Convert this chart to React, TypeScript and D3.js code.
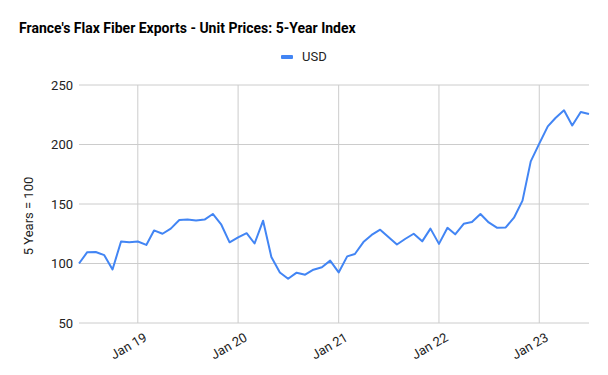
import { useEffect, useRef } from "react";
import * as d3 from "d3";

// monthly index, Jun 2018 .. Jul 2023
const startMonth = new Date(2018, 5, 1);
const values = [
  100, 109.5, 109.7, 107, 95, 118.5, 117.8,
  118.5, 115.6, 127.8, 125, 129.3, 136.6, 136.9, 136.1, 136.9, 141.6, 132.6, 117.8,
  121.9, 125.5, 116.8, 136, 105.5, 92.5, 87.2, 92.3, 90.6, 94.8, 96.8, 102.4,
  92.5, 106, 108, 118, 124, 128.4, 122.3, 116, 120.8, 125, 118.6, 129.3,
  116.5, 130, 124.5, 133.4, 134.8, 141.6, 134.5, 130, 130.3, 138.5, 152.8, 185.8,
  200.7, 215.2, 222.3, 228.7, 216, 227.3, 225.6,
];
const yTicks = [50, 100, 150, 200, 250];
const xTickYears = [2019, 2020, 2021, 2022, 2023];
const xTickLabels = ["Jan 19", "Jan 20", "Jan 21", "Jan 22", "Jan 23"];

export default function App() {
  const svgRef = useRef(null);

  useEffect(() => {
    const width = 608;
    const height = 375;
    const svg = d3.select(svgRef.current);
    svg.selectAll("*").remove();

    const data = values.map((v, i) => ({
      date: d3.timeMonth.offset(startMonth, i),
      value: v,
    }));

    const x = d3
      .scaleTime()
      .domain([data[0].date, data[data.length - 1].date])
      .range([79, 589]);
    const y = d3.scaleLinear().domain([50, 250]).range([323, 85]);

    const font = "Roboto, Arial, sans-serif";

    svg
      .append("rect")
      .attr("width", width)
      .attr("height", height)
      .attr("fill", "white");

    // horizontal grid
    yTicks.forEach((t) => {
      svg
        .append("line")
        .attr("x1", 79)
        .attr("x2", 589)
        .attr("y1", y(t))
        .attr("y2", y(t))
        .attr("stroke", "#cccccc")
        .attr("stroke-width", 1);
      svg
        .append("text")
        .attr("x", 73)
        .attr("y", y(t) + 4.5)
        .attr("text-anchor", "end")
        .attr("font-family", font)
        .attr("font-size", 13)
        .attr("fill", "#222")
        .text(t);
    });

    // vertical grid
    xTickYears.forEach((yr, i) => {
      const xp = x(new Date(yr, 0, 1));
      svg
        .append("line")
        .attr("x1", xp)
        .attr("x2", xp)
        .attr("y1", 85)
        .attr("y2", 323)
        .attr("stroke", "#cccccc")
        .attr("stroke-width", 1);
      svg
        .append("text")
        .attr("transform", `translate(${xp + 10},${340}) rotate(-30)`)
        .attr("text-anchor", "end")
        .attr("font-family", font)
        .attr("font-size", 13)
        .attr("fill", "#222")
        .text(xTickLabels[i]);
    });

    const line = d3
      .line<{ date: Date; value: number }>()
      .x((d) => x(d.date))
      .y((d) => y(d.value));

    svg
      .append("path")
      .datum(data)
      .attr("d", line)
      .attr("fill", "none")
      .attr("stroke", "#4285F4")
      .attr("stroke-width", 2)
      .attr("stroke-linejoin", "round");

    // title
    svg
      .append("text")
      .attr("x", 19)
      .attr("y", 32.5)
      .attr("font-family", font)
      .attr("font-size", 14)
      .attr("font-weight", "bold")
      .attr("fill", "#000")
      .text("France's Flax Fiber Exports - Unit Prices: 5-Year Index");

    // legend
    svg
      .append("rect")
      .attr("x", 281)
      .attr("y", 55)
      .attr("width", 12)
      .attr("height", 4)
      .attr("rx", 1)
      .attr("fill", "#4285F4");
    svg
      .append("text")
      .attr("x", 302)
      .attr("y", 61)
      .attr("font-family", font)
      .attr("font-size", 13)
      .attr("fill", "#222")
      .text("USD");

    // y axis title
    svg
      .append("text")
      .attr("transform", `translate(33,216) rotate(-90)`)
      .attr("text-anchor", "middle")
      .attr("font-family", font)
      .attr("font-size", 13)
      .attr("fill", "#222")
      .text("5 Years = 100");
  }, []);

  return (
    <svg
      ref={svgRef}
      width={608}
      height={375}
      style={{ position: "absolute", left: 0, top: 0, display: "block" }}
    />
  );
}
